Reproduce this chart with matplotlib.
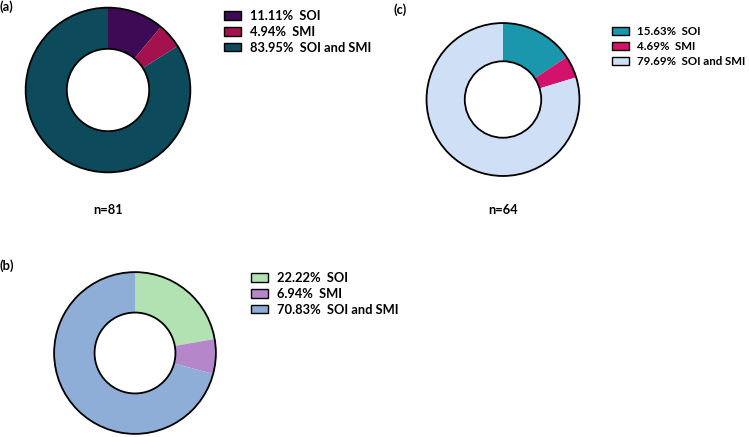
import matplotlib.pyplot as plt
from matplotlib.patches import Circle

categories = ['SOI', 'SMI', 'SOI and SMI']

values_a = [11.11, 4.94, 83.95]
values_b = [22.22, 6.94, 70.83]
values_c = [15.63, 4.69, 79.69]

colors_a = ['#3f0a55', '#a3124f', '#0c4a5c']
colors_b = ['#b2e2b2', '#b586c9', '#8eaed7']
colors_c = ['#1b97ad', '#d3136b', '#cfe0f6']

W, H = 749, 437
plt.rcParams['font.family'] = ['Lato', 'DejaVu Sans']
plt.rcParams['font.weight'] = 'bold'
FS = 9.3

fig = plt.figure(figsize=(W / 100, H / 100), dpi=100)


def donut(cx, cy, r, values, colors, letter, letter_xy, legend_xy, n_text=None,
          fs=FS, textpad=0.7):
    # pixel coords from top-left -> figure fraction
    ax = fig.add_axes([(cx - r) / W, (H - cy - r) / H, 2 * r / W, 2 * r / H])
    wedges, _ = ax.pie(values, colors=colors, startangle=90, counterclock=False,
                       radius=1, wedgeprops=dict(width=0.5, linewidth=0))
    for w in wedges:
        w.set_edgecolor(w.get_facecolor())
    ax.add_patch(Circle((0, 0), 1, fill=False, lw=1.3, ec='black'))
    ax.add_patch(Circle((0, 0), 0.5, fill=False, lw=1.3, ec='black'))
    ax.set_xlim(-1.02, 1.02)
    ax.set_ylim(-1.02, 1.02)
    ax.set_aspect('equal')
    ax.axis('off')

    labels = [f'{v:.2f}%  {c}' for v, c in zip(values, categories)]
    handles = [plt.Rectangle((0, 0), 1, 1, fc=col, ec='black', lw=1.0) for col in colors]
    fig.legend(handles, labels, loc='upper left',
               bbox_to_anchor=(legend_xy[0] / W, 1 - legend_xy[1] / H),
               frameon=False, prop=dict(size=fs, weight='bold'),
               handlelength=1.35 * FS / fs, handleheight=0.62 * FS / fs,
               handletextpad=textpad, labelspacing=0.3 * FS / fs,
               borderaxespad=0, borderpad=0)

    fig.text(letter_xy[0] / W, 1 - letter_xy[1] / H, letter, fontsize=FS,
             fontweight='bold', ha='left', va='center')
    if n_text is not None:
        fig.text(cx / W, 1 - 210 / H, n_text, fontsize=FS, fontweight='bold',
                 ha='center', va='center')


donut(108, 90, 84, values_a, colors_a, '(a)', (0, 7), (224, 10), 'n=81')
donut(503, 99.5, 78, values_c, colors_c, '(c)', (394, 10), (612, 26), 'n=64',
      fs=8.3, textpad=0.65)
donut(135, 353, 82.5, values_b, colors_b, '(b)', (0, 266), (251, 272))

fig.savefig('out.png', dpi=100)
